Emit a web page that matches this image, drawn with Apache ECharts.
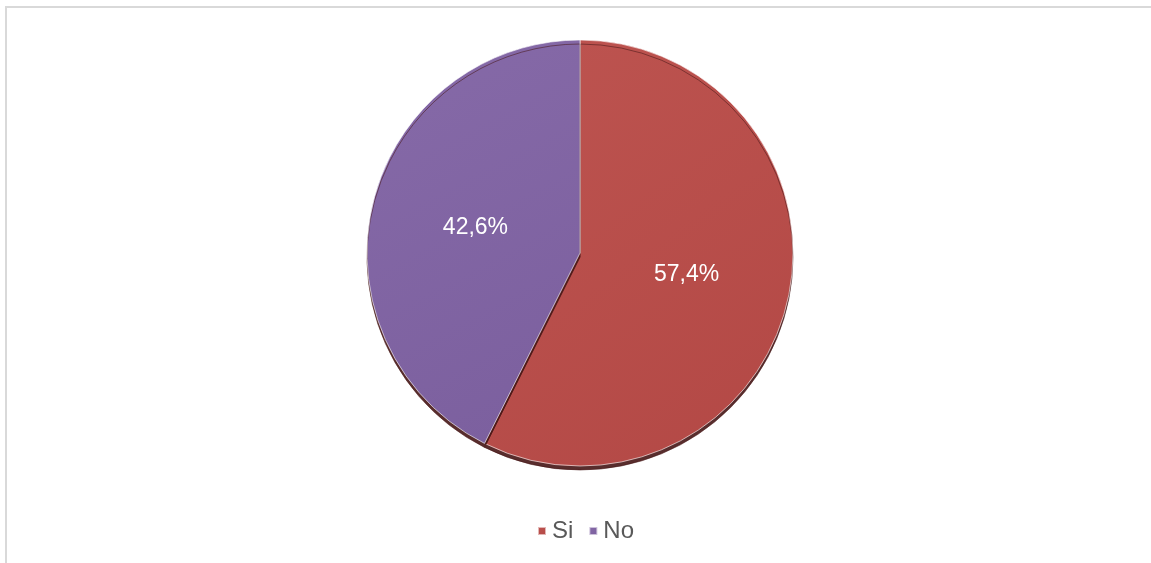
<!DOCTYPE html>
<html>
<head>
<meta charset="utf-8">
<script src="https://cdn.jsdelivr.net/npm/echarts@6/dist/echarts.min.js"></script>
<style>
html, body { margin: 0; padding: 0; background: #fff; }
#chart { width: 1151px; height: 563px; }
</style>
</head>
<body>
<div id="chart"></div>
<script>
var categories = ['Si', 'No'];
var values = [57.4, 42.6];
var colors = [
    ['#bd5450', '#b34845'],
    ['#866aa8', '#7b5f9e']
];
var labelOffsets = [[0, -4], [2, 0]];

var myChart = echarts.init(document.getElementById('chart'));

var pieData = [];
for (var i = 0; i < categories.length; i++) {
    pieData.push({
        name: categories[i],
        value: values[i],
        label: { offset: labelOffsets[i] },
        itemStyle: {
            color: new echarts.graphic.LinearGradient(0, 0, 1, 1, [
                { offset: 0, color: colors[i][0] },
                { offset: 1, color: colors[i][1] }
            ])
        }
    });
}

option = {
    backgroundColor: '#fff',
    animation: false,
    graphic: [
        {
            type: 'rect',
            shape: { x: 6, y: 7, width: 1160, height: 600 },
            style: { fill: 'none', stroke: '#d9d9d9', lineWidth: 2 },
            silent: true
        }
    ],
    legend: {
        bottom: 15,
        left: 532,
        icon: 'rect',
        itemWidth: 8,
        itemHeight: 8,
        itemGap: 15,
        data: categories,
        textStyle: {
            color: '#595959',
            fontSize: 24,
            padding: [0, 0, 0, 1],
            fontFamily: 'Liberation Sans, Arial, sans-serif'
        }
    },
    series: [
        {
            type: 'pie',
            center: [580, 253],
            radius: 213,
            startAngle: 90,
            clockwise: true,
            label: {
                show: true,
                position: 'inside',
                color: '#fff',
                fontSize: 23,
                fontFamily: 'Liberation Sans, Arial, sans-serif',
                formatter: function (p) {
                    return p.value.toFixed(1).replace('.', ',') + '%';
                }
            },
            labelLine: { show: false },
            itemStyle: {
                borderColor: 'rgba(255,255,255,0.6)',
                borderWidth: 1,
                shadowColor: 'rgba(70, 22, 22, 0.9)',
                shadowBlur: 0,
                shadowOffsetY: 4
            },
            emphasis: { disabled: true },
            data: pieData
        }
    ]
};

myChart.setOption(option);
</script>
</body>
</html>
